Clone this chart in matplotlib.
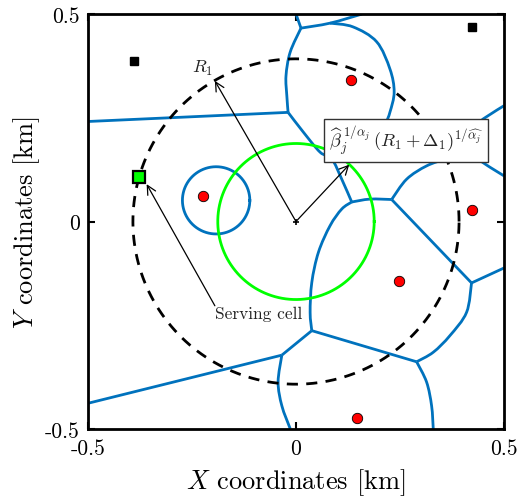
import numpy as np
import matplotlib
matplotlib.use("Agg")
import matplotlib.pyplot as plt
from matplotlib.path import Path
from matplotlib.patches import PathPatch

plt.rcParams['mathtext.fontset'] = 'cm'
plt.rcParams['font.family'] = ['cmr10', 'DejaVu Serif']
plt.rcParams['axes.unicode_minus'] = False

# cell boundaries (km)
top_stub = [(0.000, 0.500), (0.012, 0.466)]
top_line = [(0.012, 0.466), (0.082, 0.478), (0.159, 0.500)]
arc_top_right = [(0.082, 0.478), (0.137, 0.469), (0.194, 0.433), (0.226, 0.367), (0.236, 0.312),
                 (0.226, 0.264), (0.214, 0.235), (0.183, 0.192), (0.118, 0.158), (0.087, 0.151)]
arc_top_left = [(0.012, 0.466), (-0.014, 0.408), (-0.024, 0.351), (-0.022, 0.303), (-0.019, 0.263)]
left_line_top = [(-0.500, 0.241), (-0.019, 0.263)]
mid_link = [(-0.019, 0.263), (0.018, 0.215), (0.058, 0.167), (0.086, 0.151), (0.110, 0.102), (0.134, 0.047)]
j3_j4 = [(0.134, 0.047), (0.178, 0.054), (0.230, 0.053)]
arc_j4_up = [(0.230, 0.053), (0.266, 0.102), (0.314, 0.134), (0.362, 0.151), (0.399, 0.160)]
right_line = [(0.399, 0.160), (0.434, 0.151), (0.466, 0.131), (0.500, 0.110)]
arc_right_edge = [(0.500, 0.279), (0.462, 0.255), (0.442, 0.239), (0.418, 0.199), (0.399, 0.160)]
j4_j5 = [(0.230, 0.053), (0.422, -0.148)]
j5_edge = [(0.422, -0.148), (0.500, -0.112)]
arc_j5_j6 = [(0.422, -0.148), (0.410, -0.219), (0.370, -0.275), (0.330, -0.315), (0.290, -0.338)]
j6_j7 = [(0.290, -0.338), (0.038, -0.263)]
arc_j7_j3 = [(0.038, -0.263), (0.034, -0.219), (0.038, -0.147), (0.054, -0.074), (0.082, -0.010),
             (0.110, 0.030), (0.134, 0.047)]
j7_j8 = [(0.038, -0.263), (-0.006, -0.299), (-0.034, -0.322)]
left_line_bottom = [(-0.034, -0.322), (-0.500, -0.438)]
arc_j8_bottom = [(-0.034, -0.322), (-0.043, -0.387), (-0.034, -0.444), (-0.014, -0.499)]
arc_j6_bottom = [(0.290, -0.338), (0.314, -0.387), (0.326, -0.444), (0.330, -0.500)]

boundaries = [top_stub, top_line, arc_top_right, arc_top_left, left_line_top, mid_link, j3_j4,
              arc_j4_up, right_line, arc_right_edge, j4_j5, j5_edge, arc_j5_j6, j6_j7, arc_j7_j3,
              j7_j8, left_line_bottom, arc_j8_bottom, arc_j6_bottom]

small_cell_center = (-0.192, 0.051)
small_cell_radius = 0.081

red_x = [0.132, -0.223, 0.422, 0.248, 0.146]
red_y = [0.341, 0.061, 0.028, -0.144, -0.474]
black_x = [-0.389, 0.424]
black_y = [0.387, 0.468]
serving = (-0.377, 0.107)

R1 = 0.392
R_green = 0.188

tick_vals = [-0.5, 0, 0.5]
tick_labels = ['-0.5', '0', '0.5']


def smooth_path(pts):
    # bezier through the traced points (catmull-rom tangents)
    p = np.array(pts, dtype=float)
    verts = [p[0]]
    codes = [Path.MOVETO]
    n = len(p)
    for i in range(n - 1):
        p0 = p[i - 1] if i > 0 else p[i]
        p3 = p[i + 2] if i + 2 < n else p[i + 1]
        c1 = p[i] + (p[i + 1] - p0) / 6
        c2 = p[i + 1] - (p3 - p[i]) / 6
        verts += [c1, c2, p[i + 1]]
        codes += [Path.CURVE4] * 3
    return Path(verts, codes)


fig = plt.figure(figsize=(5.2, 5.02), dpi=100)
ax = fig.add_axes([0.1692, 0.1434, 0.8, 0.8267])

blue = '#0072BD'
for seg in boundaries:
    ax.add_patch(PathPatch(smooth_path(seg), fc='none', ec=blue, lw=2, capstyle='butt', zorder=2))

t = np.linspace(0, 2 * np.pi, 400)
ax.plot(small_cell_center[0] + small_cell_radius * np.cos(t),
        small_cell_center[1] + small_cell_radius * np.sin(t), color=blue, lw=2, zorder=2)
ax.plot(R_green * np.cos(t), R_green * np.sin(t), color='#00FF00', lw=2, zorder=2)
ax.plot(R1 * np.cos(t), R1 * np.sin(t), color='k', lw=2, ls=(0, (4, 3)), zorder=2)

ax.plot(red_x, red_y, 'o', color='red', mec='k', mew=0.6, ms=7.5, zorder=4)
ax.plot(black_x, black_y, 's', color='k', ms=6, zorder=4)
ax.plot(serving[0], serving[1], 's', color='#00FF00', mec='k', mew=1.6, ms=8.5, zorder=5)
ax.plot(0, 0, '+', color='k', ms=5, mew=1.2, zorder=4)

arrow = dict(arrowstyle='->', lw=0.9, color='k', mutation_scale=16, shrinkA=0, shrinkB=0)
ax.annotate('', xy=(-0.195, 0.339), xytext=(0, 0), arrowprops=arrow, zorder=3)
ax.annotate('', xy=(0.128, 0.137), xytext=(0, 0), arrowprops=arrow, zorder=3)
ax.annotate('', xy=(-0.359, 0.090), xytext=(-0.195, -0.203), arrowprops=arrow, zorder=3)
ax.text(-0.224, 0.372, r'$R_1$', fontsize=13, ha='center', va='center', color='#222222')
ax.text(-0.089, -0.222, 'Serving cell', fontsize=12.5, ha='center', va='center', color='#222222')
ax.text(0.264, 0.196, r'$\widehat{\beta}_j^{\;1/\alpha_j}\,(R_1+\Delta_1)^{1/\widehat{\alpha_j}}$',
        fontsize=13.3, ha='center', va='center', color='#222222', zorder=6,
        bbox=dict(boxstyle='square,pad=0.25', fc='white', ec='#333333', lw=1))

ax.set_xlim(-0.5, 0.5)
ax.set_ylim(-0.5, 0.5)
ax.set_xticks(tick_vals)
ax.set_yticks(tick_vals)
ax.set_xticklabels(tick_labels, fontsize=15.5)
ax.set_yticklabels(tick_labels, fontsize=15.5)
ax.tick_params(direction='in', top=True, right=True, length=5, width=1.5)
ax.tick_params(axis='x', pad=7)
ax.tick_params(axis='y', pad=6)
for s in ax.spines.values():
    s.set_linewidth(2)
ax.set_xlabel(r'$X$ coordinates [km]', fontsize=19, labelpad=6)
ax.set_ylabel(r'$Y$ coordinates [km]', fontsize=19, labelpad=2)

fig.savefig('out.png', dpi=100)
